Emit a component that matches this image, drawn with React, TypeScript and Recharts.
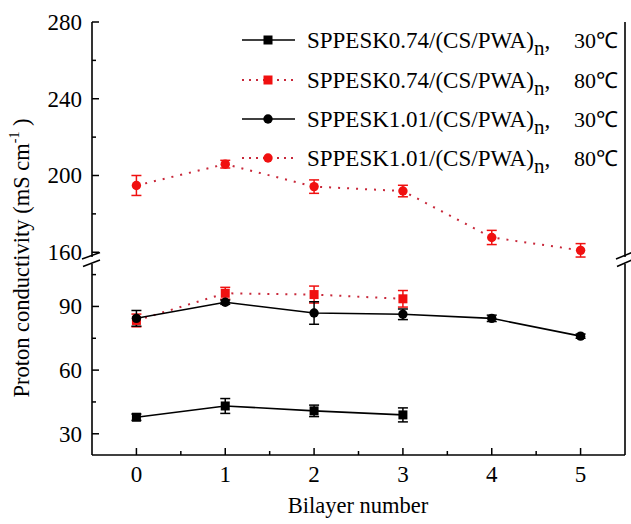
import React from "react";
import {
  LineChart,
  Line,
  XAxis,
  YAxis,
  ErrorBar,
  ReferenceLine,
} from "recharts";

const FONT = "Liberation Serif";
const RED = "#f01010";
const RED_LINE = "#c8283a";
const BLACK = "#000";

const bilayers = [0, 1, 2, 3, 4, 5];

// SPPESK0.74/(CS/PWA)n
const sk074At30 = [37.8, 43.1, 40.8, 38.9];
const sk074At30Err = [1.5, 3.5, 2.7, 3.3];
const sk074At80 = [83.4, 96.2, 95.6, 93.6];
const sk074At80Err = [3, 2.8, 4, 3.9];
// SPPESK1.01/(CS/PWA)n
const sk101At30 = [84.4, 92.0, 86.9, 86.3, 84.4, 76.0];
const sk101At30Err = [3.7, 1, 5.3, 2.5, 1.5, 1];
const sk101At80 = [194.8, 205.9, 194.2, 191.9, 167.7, 161.0];
const sk101At80Err = [5.2, 2, 3.5, 3, 3.7, 3.5];

const xTicks = [0, 0.5, 1, 1.5, 2, 2.5, 3, 3.5, 4, 4.5, 5];
const upperTicks = [160, 180, 200, 220, 240, 260, 280];
const upperLabels = [160, 200, 240, 280];
const lowerTicks = [30, 45, 60, 75, 90, 105];
const lowerLabels = [30, 60, 90];

const legendNames = [
  "SPPESK0.74/(CS/PWA)",
  "SPPESK0.74/(CS/PWA)",
  "SPPESK1.01/(CS/PWA)",
  "SPPESK1.01/(CS/PWA)",
];
const legendTemps = ["30℃", "80℃", "30℃", "80℃"];
const legendColors = [BLACK, RED, BLACK, RED];
const legendShapes = ["square", "square", "circle", "circle"];
const legendDotted = [false, true, false, true];

const toRows = (vals, errs) =>
  vals.map((v, i) => ({ x: bilayers[i], y: v, e: errs[i] }));

const axisLine = { stroke: BLACK, strokeWidth: 1.6 };

function T({ children, size = 23, ...rest }) {
  return (
    <text fontFamily={FONT} fontSize={size} fill={BLACK} {...rest}>
      {children}
    </text>
  );
}

function YTick({ x, y, payload, labels }) {
  const major = labels.includes(payload.value);
  return (
    <g>
      <line x1={x} x2={x + (major ? 7 : 4)} y1={y} y2={y} stroke={BLACK} strokeWidth={1.5} />
      {major && (
        <T x={x - 10} y={y + 8} textAnchor="end">
          {payload.value}
        </T>
      )}
    </g>
  );
}

function XTick({ x, y, payload }) {
  const major = Number.isInteger(payload.value);
  return (
    <g>
      <line x1={x} x2={x} y1={y} y2={y - (major ? 7 : 4)} stroke={BLACK} strokeWidth={1.5} />
      {major && (
        <T x={x} y={y + 27} textAnchor="middle">
          {payload.value}
        </T>
      )}
    </g>
  );
}

const squareDot = (color) => (p) => (
  <rect key={`s-${p.index}`} x={p.cx - 4.5} y={p.cy - 4.5} width={9} height={9} fill={color} stroke="none" />
);
const circleDot = (color) => (p) => (
  <circle key={`c-${p.index}`} cx={p.cx} cy={p.cy} r={4.7} fill={color} stroke="none" />
);

function Marker({ shape, color, cx, cy }) {
  return shape === "square" ? (
    <rect x={cx - 4.5} y={cy - 4.5} width={9} height={9} fill={color} />
  ) : (
    <circle cx={cx} cy={cy} r={4.7} fill={color} />
  );
}

function Overlay() {
  const rowY = [40, 80, 119, 158];
  return (
    <svg width={631} height={524} style={{ position: "absolute", left: 0, top: 0, pointerEvents: "none" }}>
      {/* axis break marks */}
      <rect x={86} y={257} width={12} height={7} fill="#fff" />
      <line x1={82} y1={259} x2={100} y2={252.5} stroke={BLACK} strokeWidth={1.5} />
      <line x1={83} y1={266.5} x2={100} y2={260} stroke={BLACK} strokeWidth={1.5} />
      <rect x={619} y={257} width={12} height={7} fill="#fff" />
      <line x1={616} y1={259} x2={632} y2={252.5} stroke={BLACK} strokeWidth={1.5} />
      <line x1={617} y1={266.5} x2={632} y2={260} stroke={BLACK} strokeWidth={1.5} />

      {/* legend */}
      {legendNames.map((name, i) => (
        <g key={i}>
          <line
            x1={242}
            x2={295}
            y1={rowY[i]}
            y2={rowY[i]}
            stroke={legendDotted[i] ? RED_LINE : BLACK}
            strokeWidth={legendDotted[i] ? 2 : 1.6}
            strokeDasharray={legendDotted[i] ? "2 5" : undefined}
          />
          <Marker shape={legendShapes[i]} color={legendColors[i]} cx={268} cy={rowY[i]} />
          <T x={307} y={rowY[i] + 8}>
            {name}
            <tspan fontSize={21} dy={7}>n</tspan>
            <tspan dy={-7}>,</tspan>
          </T>
          <T x={618} y={rowY[i] + 8} textAnchor="end" size={22}>
            {legendTemps[i]}
          </T>
        </g>
      ))}

      {/* axis titles */}
      <T x={358} y={513} textAnchor="middle" size={22.5}>
        Bilayer number
      </T>
      <T transform="translate(29,258) rotate(-90)" textAnchor="middle" size={22.5}>
        Proton conductivity (mS cm
        <tspan fontSize={14} dy={-10}>-1</tspan>
        <tspan dy={10}> )</tspan>
      </T>
    </svg>
  );
}

export default function App() {
  return (
    <div style={{ position: "relative", width: 631, height: 524, background: "#fff" }}>
      <style>{"body{margin:0}"}</style>

      {/* upper segment: 157-280 */}
      <div style={{ position: "absolute", left: 0, top: 0 }}>
        <LineChart width={631} height={266} margin={{ top: 22, right: 6, bottom: 8, left: 0 }}>
          <XAxis
            type="number"
            dataKey="x"
            domain={[-0.5, 5.5]}
            orientation="top"
            height={0}
            tick={false}
            tickLine={false}
            axisLine={axisLine}
            allowDataOverflow
          />
          <YAxis
            type="number"
            domain={[157, 280]}
            ticks={upperTicks}
            interval={0}
            width={92}
            tickSize={0}
            tickMargin={0}
            tickLine={false}
            axisLine={axisLine}
            tick={(p) => <YTick {...p} labels={upperLabels} />}
            allowDataOverflow
          />
          <ReferenceLine x={5.5} stroke={BLACK} strokeWidth={1.6} />
          <Line
            data={toRows(sk101At80, sk101At80Err)}
            dataKey="y"
            stroke={RED_LINE}
            strokeWidth={2}
            strokeDasharray="2 7"
            dot={circleDot(RED)}
            activeDot={false}
            isAnimationActive={false}
          >
            <ErrorBar dataKey="e" width={5} stroke={RED} strokeWidth={1.5} direction="y" isAnimationActive={false} />
          </Line>
        </LineChart>
      </div>

      {/* lower segment: 20-110 */}
      <div style={{ position: "absolute", left: 0, top: 264 }}>
        <LineChart width={631} height={260} margin={{ top: 0, right: 6, bottom: 0, left: 0 }}>
          <XAxis
            type="number"
            dataKey="x"
            domain={[-0.5, 5.5]}
            ticks={xTicks}
            interval={0}
            height={69}
            tickSize={0}
            tickMargin={0}
            tickLine={false}
            axisLine={axisLine}
            tick={(p) => <XTick {...p} />}
            allowDataOverflow
          />
          <YAxis
            type="number"
            domain={[20, 110]}
            ticks={lowerTicks}
            interval={0}
            width={92}
            tickSize={0}
            tickMargin={0}
            tickLine={false}
            axisLine={axisLine}
            tick={(p) => <YTick {...p} labels={lowerLabels} />}
            allowDataOverflow
          />
          <ReferenceLine x={5.5} stroke={BLACK} strokeWidth={1.6} />
          <Line
            data={toRows(sk074At80, sk074At80Err)}
            dataKey="y"
            stroke={RED_LINE}
            strokeWidth={2}
            strokeDasharray="2 7"
            dot={squareDot(RED)}
            activeDot={false}
            isAnimationActive={false}
          >
            <ErrorBar dataKey="e" width={5} stroke={RED} strokeWidth={1.5} direction="y" isAnimationActive={false} />
          </Line>
          <Line
            data={toRows(sk101At30, sk101At30Err)}
            dataKey="y"
            stroke={BLACK}
            strokeWidth={1.6}
            dot={circleDot(BLACK)}
            activeDot={false}
            isAnimationActive={false}
          >
            <ErrorBar dataKey="e" width={5} stroke={BLACK} strokeWidth={1.5} direction="y" isAnimationActive={false} />
          </Line>
          <Line
            data={toRows(sk074At30, sk074At30Err)}
            dataKey="y"
            stroke={BLACK}
            strokeWidth={1.6}
            dot={squareDot(BLACK)}
            activeDot={false}
            isAnimationActive={false}
          >
            <ErrorBar dataKey="e" width={5} stroke={BLACK} strokeWidth={1.5} direction="y" isAnimationActive={false} />
          </Line>
        </LineChart>
      </div>

      <Overlay />
    </div>
  );
}
